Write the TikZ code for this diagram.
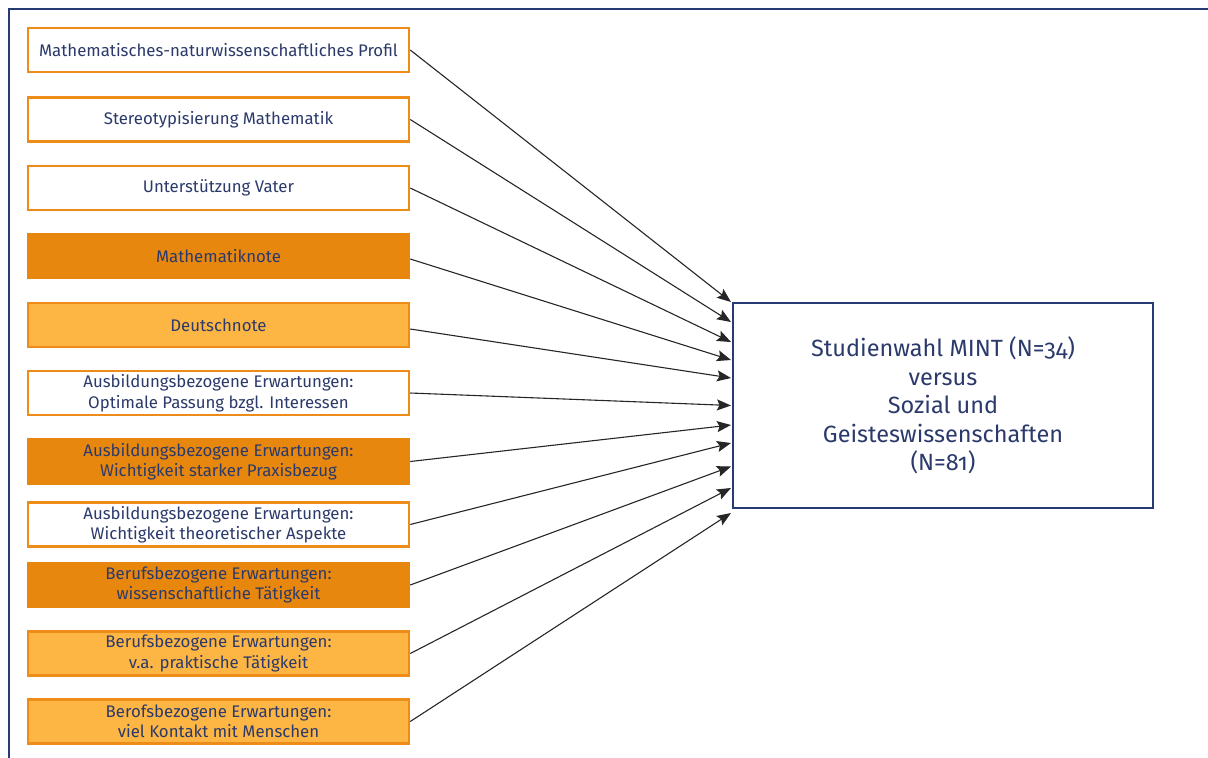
\documentclass[tikz,border=0pt]{standalone}
\usepackage{fontspec}
\setmainfont{Fira Sans}[Numbers=OldStyle]
\usetikzlibrary{arrows.meta}
\definecolor{navy}{HTML}{283A73}
\definecolor{txtblue}{HTML}{2B3A6B}
\definecolor{darkor}{HTML}{E8870E}
\definecolor{lightor}{HTML}{FDB643}
\definecolor{bordor}{HTML}{EE8C1A}
\tikzset{
  frame/.style={draw=navy,line width=2.5pt},
  factor/.style={draw=bordor,line width=2.5pt,minimum width=381pt,minimum height=44pt,
    inner sep=0pt,align=center,text=txtblue,font=\fontsize{16.8}{20.5}\selectfont},
  plain/.style={factor,fill=white},
  dark/.style={factor,fill=darkor,draw=darkor},
  light/.style={factor,fill=lightor},
  target/.style={draw=navy,line width=2.5pt,fill=white,minimum width=420pt,minimum height=205pt,
    inner sep=0pt,align=center,text=txtblue,font=\fontsize{23.5}{28.5}\selectfont},
  conn/.style={draw=black!85,line width=1.1pt,-{Stealth[length=14pt,width=11pt,inset=2.5pt]}}
}
\begin{document}
\begin{tikzpicture}[x=1pt,y=-1pt]
\useasboundingbox (0,0) rectangle (1208,758);
\draw[frame] (9,760) -- (9,9) -- (1210,9);
\node[plain] (b1) at (218.5,50) {Mathematisches-naturwissenschaftliches Profil};
\node[plain] (b2) at (218.5,119.5) {Stereotypisierung Mathematik};
\node[plain] (b3) at (218.5,188) {Unterstützung Vater};
\node[dark]  (b4) at (218.5,256) {Mathematiknote};
\node[light] (b5) at (218.5,325) {Deutschnote};
\node[plain] (b6) at (218.5,393) {Ausbildungsbezogene Erwartungen:\\Optimale Passung bzgl. Interessen};
\node[dark]  (b7) at (218.5,461.5) {Ausbildungsbezogene Erwartungen:\\Wichtigkeit starker Praxisbezug};
\node[plain] (b8) at (218.5,524.5) {Ausbildungsbezogene Erwartungen:\\Wichtigkeit theoretischer Aspekte};
\node[dark]  (b9) at (218.5,585) {Berufsbezogene Erwartungen:\\wissenschaftliche Tätigkeit};
\node[light] (b10) at (218.5,653.5) {Berufsbezogene Erwartungen:\\v.a. praktische Tätigkeit};
\node[light] (b11) at (218.5,721.5) {Berofsbezogene Erwartungen:\\viel Kontakt mit Menschen};
\node[target] (t) at (943,405.5) {Studienwahl MINT (N=34)\\versus\\Sozial und\\Geisteswissenschaften\\(N=81)};
\coordinate (e1) at (731,302);
\coordinate (e2) at (731,322);
\coordinate (e3) at (731,342);
\coordinate (e4) at (731,360);
\coordinate (e5) at (731,378);
\coordinate (e6) at (731,405.5);
\coordinate (e7) at (731,425);
\coordinate (e8) at (731,443);
\coordinate (e9) at (731,466.5);
\coordinate (e10) at (731,488);
\coordinate (e11) at (731,513);
\draw[conn] (b1.east) -- (e1);
\draw[conn] (b2.east) -- (e2);
\draw[conn] (b3.east) -- (e3);
\draw[conn] ([yshift=-3pt]b4.east) -- (e4);
\draw[conn] ([yshift=-4pt]b5.east) -- (e5);
\draw[conn] (b6.east) -- (e6);
\draw[conn] (b7.east) -- (e7);
\draw[conn] (b8.east) -- (e8);
\draw[conn] (b9.east) -- (e9);
\draw[conn] (b10.east) -- (e10);
\draw[conn] (b11.east) -- (e11);
\end{tikzpicture}
\end{document}
